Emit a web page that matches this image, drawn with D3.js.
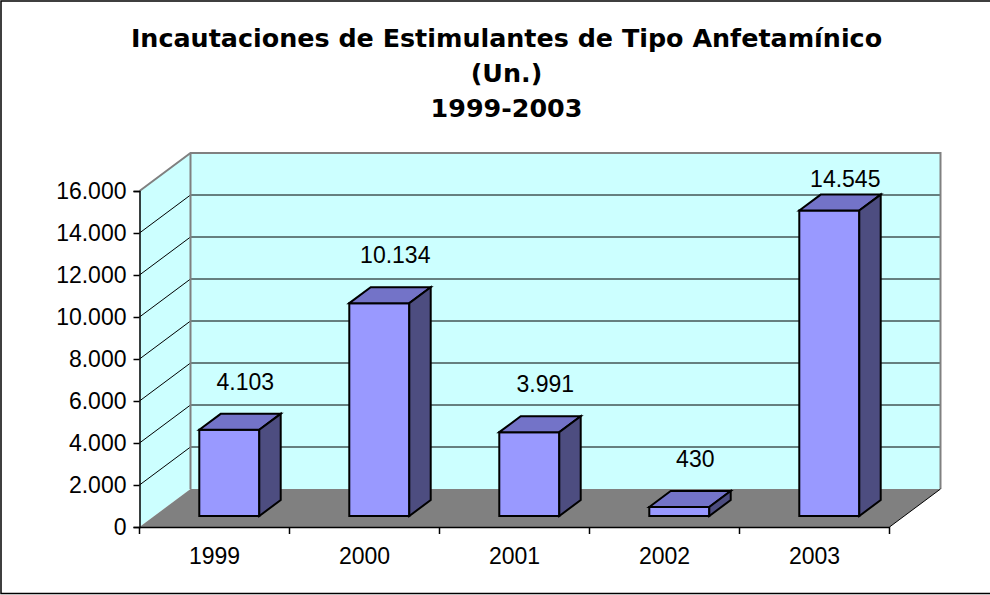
<!DOCTYPE html>
<html>
<head>
<meta charset="utf-8">
<script src="https://cdn.jsdelivr.net/npm/d3@7"></script>
<style>
  html, body { margin: 0; padding: 0; background: #ffffff; }
  svg { display: block; }
  text { font-family: "Liberation Sans", Arial, sans-serif; fill: #000; }
  text.title { font-family: "DejaVu Sans", Verdana, sans-serif; font-weight: bold; }
</style>
</head>
<body>
<svg id="chart" width="990" height="595"></svg>
<script>
// Seizures of amphetamine-type stimulants, units per year
const years = ["1999", "2000", "2001", "2002", "2003"];
const seizures = [4103, 10134, 3991, 430, 14545];
const yTicks = [0, 2000, 4000, 6000, 8000, 10000, 12000, 14000, 16000];
const titleLines = ["Incautaciones de Estimulantes de Tipo Anfetamínico", "(Un.)", "1999-2003"];

const W = 990, H = 595;
const svg = d3.select("#chart");

// number format with "." as thousands separator
const locale = d3.formatLocale({ decimal: ",", thousands: ".", grouping: [3], currency: ["", ""] });
const fmt = locale.format(",d");

// front plane of the 3D box
const plotLeft = 139.5, plotRight = 889.5, plotBottom = 527, plotTop = 191;
// depth vector of the box (towards the back wall)
const DX = 51, DY = -38;
// bars sit between these fractions of the depth
const dFront = 0.29, dBack = 0.71;
const numSize = 23;

const x = d3.scaleBand().domain(years).range([plotLeft, plotRight]).paddingInner(0).paddingOuter(0);
const y = d3.scaleLinear().domain([0, 16000]).range([plotBottom, plotTop]);
const barW = x.bandwidth() * 0.4;

const line = d3.line();

// outer frame
svg.append("rect")
  .attr("x", 1).attr("y", 1).attr("width", W + 4).attr("height", H - 2.5)
  .attr("fill", "#fff").attr("stroke", "#000").attr("stroke-width", 1.5);

// title
svg.append("g").selectAll("text").data(titleLines).join("text")
  .attr("class", "title")
  .attr("x", 506.5).attr("y", (d, i) => 47 + i * 35)
  .attr("text-anchor", "middle")
  .attr("font-size", 25.4)
  .text(d => d);

const y0 = y(0), yTop = y(16000);

// side wall (left)
svg.append("path")
  .attr("d", line([[plotLeft, y0], [plotLeft, yTop], [plotLeft + DX, yTop + DY], [plotLeft + DX, y0 + DY]]) + "Z")
  .attr("fill", "#CCFFFF");

// back wall
svg.append("path")
  .attr("d", line([[plotLeft + DX, y0 + DY], [plotLeft + DX, yTop + DY], [plotRight + DX, yTop + DY], [plotRight + DX, y0 + DY]]) + "Z")
  .attr("fill", "#CCFFFF");

// gridlines on the side wall and back wall
const grid = svg.append("g").attr("stroke", "#000").attr("stroke-width", 1).attr("fill", "none");
yTicks.filter(t => t > 0 && t < 16000).forEach(t => {
  grid.append("path").attr("d", line([[plotLeft, y(t)], [plotLeft + DX, y(t) + DY], [plotRight + DX, y(t) + DY]]));
});

// wall edges
svg.append("path")
  .attr("d", line([[plotLeft, yTop], [plotLeft + DX, yTop + DY], [plotRight + DX, yTop + DY], [plotRight + DX, y0 + DY]]))
  .attr("fill", "none").attr("stroke", "#808080").attr("stroke-width", 2);
svg.append("path")
  .attr("d", line([[plotLeft + DX, yTop + DY], [plotLeft + DX, y0 + DY]]))
  .attr("fill", "none").attr("stroke", "#808080").attr("stroke-width", 2);

// floor
svg.append("path")
  .attr("d", line([[plotLeft, y0], [plotLeft + DX, y0 + DY], [plotRight + DX, y0 + DY], [plotRight, y0]]) + "Z")
  .attr("fill", "#808080");
svg.append("path")
  .attr("d", line([[plotRight, y0], [plotRight + DX, y0 + DY]]))
  .attr("fill", "none").attr("stroke", "#000").attr("stroke-width", 1);

// bars: front, top and right side faces
const bars = svg.append("g").attr("stroke", "#000").attr("stroke-width", 2).attr("stroke-linejoin", "miter");
years.forEach((yr, i) => {
  const v = seizures[i];
  const cx = x(yr) + x.bandwidth() / 2;
  const fx0 = cx - barW / 2 + DX * dFront, fx1 = fx0 + barW;
  const fyb = y(0) + DY * dFront, fyt = y(v) + DY * dFront;
  const bdx = DX * (dBack - dFront), bdy = DY * (dBack - dFront);
  bars.append("path").attr("fill", "#9999FF")
    .attr("d", line([[fx0, fyb], [fx0, fyt], [fx1, fyt], [fx1, fyb]]) + "Z");
  bars.append("path").attr("fill", "#7373C8")
    .attr("d", line([[fx0, fyt], [fx0 + bdx, fyt + bdy], [fx1 + bdx, fyt + bdy], [fx1, fyt]]) + "Z");
  bars.append("path").attr("fill", "#4D4D80")
    .attr("d", line([[fx1, fyb], [fx1, fyt], [fx1 + bdx, fyt + bdy], [fx1 + bdx, fyb + bdy]]) + "Z");
});

// value labels above each bar
svg.append("g").selectAll("text").data(years).join("text")
  .attr("x", d => x(d) + x.bandwidth() / 2 + DX * dFront + 16)
  .attr("y", (d, i) => Math.max(187, y(seizures[i]) + DY * dBack - 24))
  .attr("text-anchor", "middle")
  .attr("font-size", numSize)
  .text((d, i) => fmt(seizures[i]));

// value axis (front left edge)
const yAxis = d3.axisLeft(y).tickValues(yTicks).tickFormat(fmt).tickSize(6).tickPadding(7);
const ya = svg.append("g").attr("transform", `translate(${plotLeft},0)`).call(yAxis);
ya.select(".domain").attr("stroke", "#000").attr("stroke-width", 1.5);
ya.selectAll(".tick line").attr("stroke", "#000").attr("stroke-width", 1.5);
ya.selectAll(".tick text").attr("font-size", numSize).attr("fill", "#000");

// category axis (front bottom edge)
const xAxis = d3.axisBottom(x).tickSize(0).tickPadding(21);
const xa = svg.append("g").attr("transform", `translate(0,${y0})`).call(xAxis);
xa.select(".domain").attr("stroke", "#000").attr("stroke-width", 1.5);
xa.selectAll(".tick text").attr("font-size", numSize).attr("fill", "#000");
// tick marks at category boundaries
xa.append("g").selectAll("line").data(d3.range(years.length + 1)).join("line")
  .attr("x1", i => plotLeft + i * x.step()).attr("x2", i => plotLeft + i * x.step())
  .attr("y1", 0).attr("y2", 7)
  .attr("stroke", "#000").attr("stroke-width", 1.5);
</script>
</body>
</html>
